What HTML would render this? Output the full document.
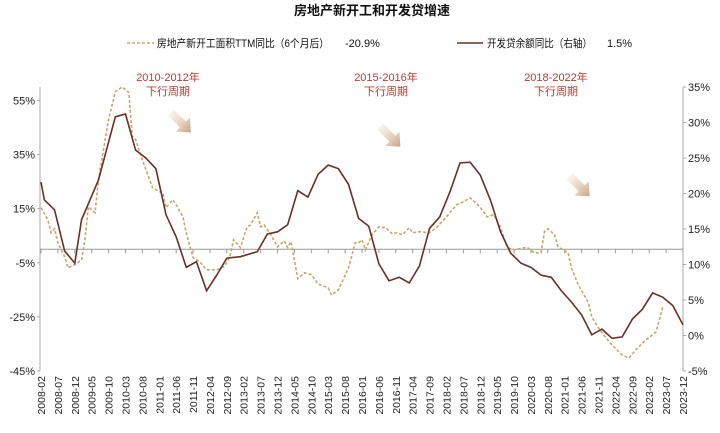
<!DOCTYPE html>
<html><head><meta charset="utf-8"><style>
body{margin:0;background:#fff;}
svg{display:block;font-family:"Liberation Sans","Noto Sans CJK SC",sans-serif;}
</style></head><body>
<svg id="chart" width="720" height="433" viewBox="0 0 720 433">
<defs>
<linearGradient id="ag" x1="0" y1="0" x2="1" y2="1">
<stop offset="0" stop-color="#f3e6d8" stop-opacity="0.3"/><stop offset="1" stop-color="#c9a27e"/></linearGradient>
</defs>
<text x="372" y="15" text-anchor="middle" font-size="13" font-weight="bold" fill="#111">房地产新开工和开发贷增速</text>
<g>
<line x1="127" y1="43" x2="154" y2="43" stroke="#c9a56a" stroke-width="1.6" stroke-dasharray="3,2"/>
<text x="157" y="47" font-size="11" fill="#111" textLength="172" lengthAdjust="spacingAndGlyphs">房地产新开工面积TTM同比（6个月后）</text>
<text x="345" y="47" font-size="11" fill="#111">-20.9%</text>
<line x1="457" y1="43" x2="483" y2="43" stroke="#6b2f24" stroke-width="1.6"/>
<text x="487" y="47" font-size="11" fill="#111" textLength="105" lengthAdjust="spacingAndGlyphs">开发贷余额同比（右轴）</text>
<text x="607" y="47" font-size="11" fill="#111">1.5%</text>
</g>
<g font-size="11" fill="#c0392b" text-anchor="middle">
<text x="168" y="81">2010-2012年</text>
<text x="168" y="95">下行周期</text>
<text x="386" y="81">2015-2016年</text>
<text x="386" y="95">下行周期</text>
<text x="556" y="81">2018-2022年</text>
<text x="556" y="95">下行周期</text>
</g>
<g id="arrows"></g>
<g id="axes"></g>
<g id="series"></g>
</svg>
<script>
const startMonths=[0,2,3,4,5,7,8,10,12,13,14,16,17,20,22,24,26,27,28,30,33,35,36,37,39,40,42,43,45,47,49,52,54,55,56,57,59,61,62,64,65,66,68,70,72,73,74,76,78,80,82,85,86,88,91,93,94,95,96,98,100,102,104,105,107,109,110,112,115,117,120,123,125,127,129,131,132,134,136,138,140,143,144,146,148,149,150,152,153,156,157,159,162,163,165,167,169,172,174,176,179,182,183,184];
const startValues=[15.4,10.9,6.1,7.6,2.4,-2.8,-6.9,-5.7,-3.9,3.5,15.7,13.5,25.7,48,58.3,60,58,41.7,40.6,33,22.8,21.3,21,15.4,18.3,16.5,12,6,-3.1,-4.6,-7.6,-7.6,-6.5,-5,-2,3.5,0.6,8.3,9,13.5,8.3,9,5.4,0.9,3.1,0.6,2.8,-10.9,-8.7,-9.4,-12.8,-14.3,-16.9,-15,-6.9,2.4,2.4,3.5,-0.2,5.4,8.3,8,5.7,6.1,5.4,8,6.1,6.5,6.1,8,12,16.5,17.6,19,16.9,13.9,12,12.8,8,0.6,-0.2,0.6,0.6,-1.3,-1.3,6.5,7.6,5.4,0.9,-1.3,-6.9,-13.1,-19.8,-25,-29.1,-32.4,-35.4,-39.1,-40.2,-37.2,-33.5,-30.6,-26.1,-21.3];
const loanMonths=[0,1,4,7,10,12,17,22,25,28,31,34,37,40,43,46,49,52,55,59,64,67,70,73,76,79,82,85,88,91,94,97,100,103,106,109,112,115,118,121,124,127,130,133,136,139,142,145,148,151,154,157,160,163,166,169,172,175,178,181,184,187,190];
const loanValues=[21.6,19.1,17.7,11.9,10.2,16.3,21.9,30.8,31.2,26.1,25,23.5,17,13.9,9.6,10.4,6.3,8.5,10.9,11.1,11.8,14.3,14.6,15.6,20.4,19.5,22.7,24,23.5,21.3,16.5,15.4,10.1,7.7,8.2,7.4,9.8,15.1,16.7,20.2,24.3,24.4,22.6,19.1,14.6,11.6,10.2,9.6,8.5,8.2,6.3,4.7,2.9,0.1,0.9,-0.4,-0.2,2.3,3.7,6,5.4,4.2,1.5];
const leftTicks=[55,35,15,-5,-25,-45];
const rightTicks=[35,30,25,20,15,10,5,0,-5];
const arrowMonths=[42,104,160];
const arrowValues=[30,28,21];

const NS="http://www.w3.org/2000/svg";
const X0=41,X1=683,Y0=371,Y1=87;
const xs=m=>X0+(X1-X0)*m/190;
const yl=v=>Y0-(v+45)/105*(Y0-Y1);
const yr=v=>Y0-(v+5)/40*(Y0-Y1);
function mk(t,a,p){const e=document.createElementNS(NS,t);for(const k in a)e.setAttribute(k,a[k]);p.appendChild(e);return e;}
const axes=document.getElementById('axes'),ser=document.getElementById('series'),arr=document.getElementById('arrows');

let e=mk('line',{x1:40,y1:Y1,x2:40,y2:Y0,stroke:'#aaa','stroke-width':1},axes);


e=mk('line',{x1:683,y1:Y1,x2:683,y2:Y0,stroke:'#aaa','stroke-width':1},axes);


e=mk('line',{x1:40,y1:yl(0),x2:683,y2:yl(0),stroke:'#999','stroke-width':1},axes);


leftTicks.forEach(v=>{
 let t=mk('text',{x:35,y:yl(v)+4,'text-anchor':'end','font-size':11,fill:'#222'},axes);t.textContent=v+'%';
 
 
 mk('line',{x1:37,y1:yl(v),x2:40,y2:yl(v),stroke:'#aaa'},axes);
});
rightTicks.forEach(v=>{
 let t=mk('text',{x:688,y:yr(v)+4,'font-size':11,fill:'#222'},axes);t.textContent=v+'%';
 
 
 mk('line',{x1:683,y1:yr(v),x2:686,y2:yr(v),stroke:'#aaa'},axes);
});
for(let m=0;m<=190;m+=5){
 const mo=2+m;const yy=2008+Math.floor((mo-1)/12),mm=((mo-1)%12)+1;
 const lab=yy+'-'+(mm<10?'0':'')+mm;const x=xs(m);
 mk('line',{x1:x,y1:yl(0),x2:x,y2:yl(0)+4,stroke:'#999'},axes);
 let t=mk('text',{x:0,y:0,'font-size':10.5,fill:'#222','text-anchor':'end',transform:`translate(${x+4},376) rotate(-90)`},axes);
 t.textContent=lab;
 
 
}
arrowMonths.forEach((m,i)=>{
 const cx=xs(m),cy=yr(arrowValues[i]);
 let g=mk('polygon',{points:'-9,-13 3,-1 7,-5 8,10 -7,9 -3,5 -15,-7',transform:`translate(${cx},${cy})`,fill:'url(#ag)'},arr);
 
 
});
let p=mk('polyline',{points:startMonths.map((m,i)=>xs(m)+','+yl(startValues[i])).join(' '),fill:'none',stroke:'#c9a56a','stroke-width':1.6,'stroke-dasharray':'3,2'},ser);


p=mk('polyline',{points:loanMonths.map((m,i)=>xs(m)+','+yr(loanValues[i])).join(' '),fill:'none',stroke:'#6b2f24','stroke-width':1.6},ser);


</script>
</body></html>
